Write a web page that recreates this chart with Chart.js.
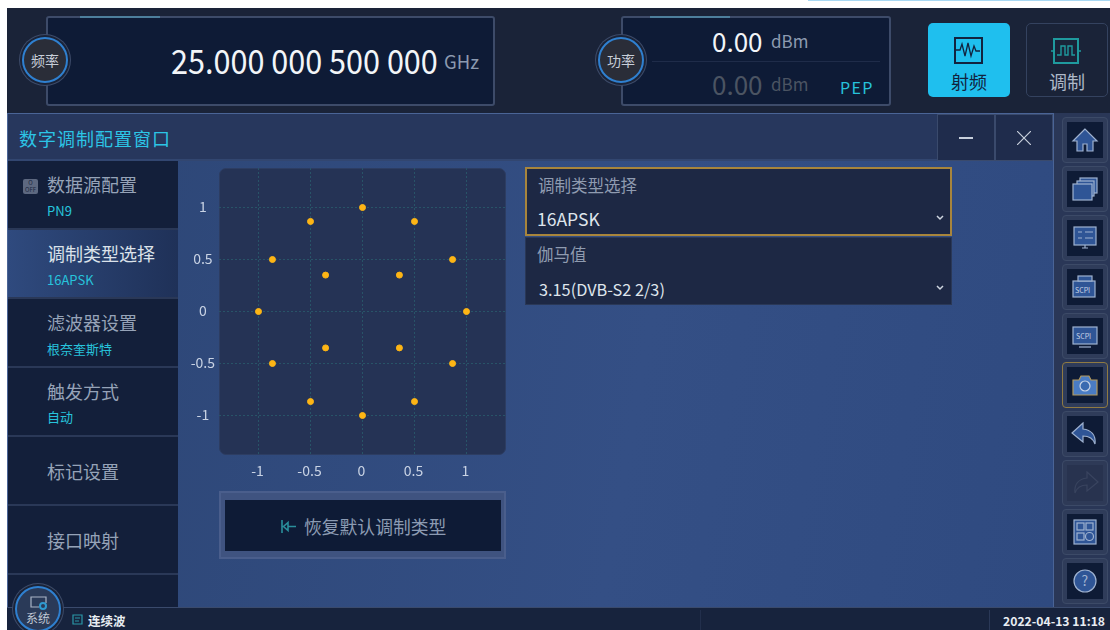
<!DOCTYPE html>
<html>
<head>
<meta charset="utf-8">
<title>数字调制配置窗口</title>
<script src="https://cdn.jsdelivr.net/npm/chart.js@4"></script>
<style>
html,body{margin:0;padding:0;width:1110px;height:630px;overflow:hidden;background:#fff;font-family:"Noto Sans CJK SC","Noto Sans",sans-serif;}
div,span,svg,canvas{position:absolute;box-sizing:border-box;white-space:nowrap;}
.box{background:#0e1b36;border:2px solid #3d4b69;border-radius:3px;}
.circle{width:46px;height:46px;border-radius:50%;background:#2a2d38;border:2px solid #2f80d0;box-shadow:0 0 0 2px #1a2338,0 0 0 3px #3d4b69;color:#c8ced8;font-size:14px;line-height:42px;text-align:center;}
.num{color:#f2f5f8;}
.unit{color:#8c9ab0;font-size:17px;}
.side{left:8px;width:170px;height:69px;border-bottom:2px solid #2a3857;}
.sname{left:47px;color:#96a3b8;font-size:18px;line-height:24px;}
.ssub{left:47px;color:#27c3dc;font-size:13px;line-height:18px;}
.rbtn{left:1062px;width:46px;height:46px;background:#0e1b36;border:5px solid #2f3c5a;outline:1px solid #3c4a67;outline-offset:-1px;border-radius:4px;}
.rbtn svg{left:4px;top:4px;width:28px;height:28px;}
.dd{left:525px;width:427px;background:#1d2844;}
.ddl{color:#8f9bb0;font-size:16.5px;line-height:22px;}
.ddv{color:#dfe5ec;line-height:24px;}
</style>
</head>
<body>

<div style="left:808px;top:0;width:302px;height:1px;background:#a8d8f2"></div>
<div style="left:7px;top:8px;width:1103px;height:105px;background:#1a2338"></div>

<div class="box" style="left:46px;top:16px;width:449px;height:90px"></div>
<div style="left:80px;top:16px;width:80px;height:2px;background:#4d7f9c"></div>
<div class="circle" style="left:22px;top:37px">频率</div>
<span class="num" style="left:171px;top:36px;font-size:34px;line-height:48px;transform:scaleX(.9);transform-origin:left center">25.000 000 500 000</span>
<span class="unit" style="left:444px;top:49px;line-height:24px;font-size:18.500px">GHz</span>

<div class="box" style="left:621px;top:16px;width:270px;height:90px"></div>
<div style="left:650px;top:16px;width:80px;height:2px;background:#4d7f9c"></div>
<div style="left:652px;top:61px;width:228px;height:1px;background:#1f2c49"></div>
<div class="circle" style="left:598px;top:37px">功率</div>
<span class="num" style="left:712px;top:23px;font-size:26px;line-height:36px">0.00</span>
<span class="unit" style="left:771px;top:29px;line-height:24px">dBm</span>
<span style="left:712px;top:66px;font-size:26px;line-height:36px;color:#4b5462">0.00</span>
<span style="left:771px;top:72px;font-size:17px;line-height:24px;color:#4b5462">dBm</span>
<span style="left:840px;top:75px;font-size:16px;line-height:24px;letter-spacing:1.300px;color:#27c3dc">PEP</span>

<div style="left:928px;top:23px;width:82px;height:74px;background:#1fbfee;border-radius:5px"></div>
<svg style="left:954px;top:37px" width="29" height="27" viewBox="0 0 29 27" fill="none" stroke="#12233f" stroke-width="2"><rect x="1" y="1" width="27" height="25"/><path stroke-width="1.3" d="M2 13l4 0 2-6 3 12 3-13 3 13 3-10 2 5 4 0"/></svg>
<span style="left:951px;top:68px;font-size:18px;line-height:26px;color:#12233f">射频</span>
<div style="left:1026px;top:23px;width:82px;height:74px;border:1px solid #34425f;border-radius:5px"></div>
<svg style="left:1051px;top:38px" width="30" height="26" viewBox="0 0 30 26" fill="none" stroke="#1f9a9e" stroke-width="2"><rect x="3" y="1" width="24" height="24"/><path stroke-width="1.4" d="M0 13h3M27 13h3M6 17h4V8h4v9h3V8h4v9h3"/></svg>
<span style="left:1049px;top:68px;font-size:18px;line-height:26px;color:#aeb9c8">调制</span>

<div style="left:7px;top:113px;width:1047px;height:495px;background:linear-gradient(100deg,#2c4574,#344f85 60%,#2f4a80);border:1px solid #4a6496"></div>
<div style="left:8px;top:114px;width:1045px;height:47px;background:#27375d;border-bottom:2px solid #324670"></div>
<span style="left:19px;top:125px;font-size:18px;line-height:26px;letter-spacing:1px;color:#2cc5e6">数字调制配置窗口</span>
<div style="left:937px;top:114px;width:58px;height:47px;background:#1f2c4c;border:1px solid #3a4a6c"></div>
<div style="left:995px;top:114px;width:58px;height:47px;background:#1f2c4c;border:1px solid #3a4a6c"></div>
<div style="left:959px;top:137px;width:14px;height:2px;background:#c8d0dc"></div>
<svg style="left:1017px;top:131px" width="14" height="14" stroke="#c8d0dc" stroke-width="1.2"><path d="M0 0L14 14M14 0L0 14"/></svg>

<div style="left:8px;top:161px;width:170px;height:446px;background:#131f3a"></div>
<div class="side" style="top:161px"></div>
<div class="side" style="top:230px;background:linear-gradient(90deg,#2f4a7e,#1f3158)"></div>
<div class="side" style="top:299px"></div>
<div class="side" style="top:368px"></div>
<div class="side" style="top:437px"></div>
<div class="side" style="top:506px"></div>
<div style="left:23px;top:179px;width:15px;height:15px;background:#5d6880;border-radius:2px;color:#1b2740;font-size:6px;line-height:7px;text-align:center">O<br>OFF</div>
<span class="sname" style="top:172px">数据源配置</span>
<span class="ssub" style="top:202px">PN9</span>
<span class="sname" style="top:241px;color:#dbe2ea">调制类型选择</span>
<span class="ssub" style="top:271px">16APSK</span>
<span class="sname" style="top:310px">滤波器设置</span>
<span class="ssub" style="top:340px">根奈奎斯特</span>
<span class="sname" style="top:379px">触发方式</span>
<span class="ssub" style="top:408px">自动</span>
<span class="sname" style="top:459px">标记设置</span>
<span class="sname" style="top:528px">接口映射</span>

<div style="left:219px;top:168px;width:287px;height:287px;background:#253355;border-radius:7px;border:1px solid #2d3d62"></div>
<canvas id="constellation" width="340" height="320" style="left:180px;top:160px;width:340px;height:320px"></canvas>

<div style="left:219px;top:491px;width:287px;height:68px;background:#3f5380;border:2px solid #4a5e8c"></div>
<div style="left:225px;top:500px;width:276px;height:51px;background:#0e1b36"></div>
<svg style="left:281px;top:520px" width="16" height="13" fill="none" stroke="#2a8f9c" stroke-width="1.6"><path d="M1 0v13M15 6.500H7M7 2.500L2.500 6.500L7 10.500Z"/></svg>
<span style="left:304px;top:513px;font-size:17.800px;line-height:26px;color:#8c9bb3">恢复默认调制类型</span>

<div class="dd" style="top:167px;height:69px;border:2px solid #a8853c"></div>
<span class="ddl" style="left:538px;top:174px">调制类型选择</span>
<span class="ddv" style="left:537px;top:207px;font-size:17.500px">16APSK</span>
<svg style="left:936px;top:215px" width="8" height="6" fill="none" stroke="#cfd6e0" stroke-width="1.5"><path d="M1 1l3 3 3-3"/></svg>
<div class="dd" style="top:237px;height:68px;border:1px solid #2a3857"></div>
<span class="ddl" style="left:537px;top:243px">伽马值</span>
<span class="ddv" style="left:539px;top:277px;font-size:16.300px">3.15(DVB-S2 2/3)</span>
<svg style="left:936px;top:285px" width="8" height="6" fill="none" stroke="#cfd6e0" stroke-width="1.5"><path d="M1 1l3 3 3-3"/></svg>

<div style="left:1054px;top:113px;width:56px;height:495px;background:#2a3757"></div>
<div class="rbtn" style="top:117px"><svg viewBox="0 0 28 28" fill="#2f5596" stroke="#9fb2d0" stroke-width="1.2"><path d="M14 3L2 15h4v10h6v-7h4v7h6V15h4z"/></svg></div>
<div class="rbtn" style="top:166px"><svg viewBox="0 0 28 28" fill="#2f5596" stroke="#9fb2d0" stroke-width="1.2"><rect x="9" y="3" width="17" height="15"/><rect x="6" y="6" width="17" height="15"/><rect x="2" y="9" width="19" height="16"/></svg></div>
<div class="rbtn" style="top:215px"><svg viewBox="0 0 28 28" fill="#2f5596" stroke="#9fb2d0" stroke-width="1.2"><rect x="3" y="3" width="22" height="18"/><path d="M7 8h4M14 8h8M7 14h4M14 14h8M11 24h6M14 21v3"/></svg></div>
<div class="rbtn" style="top:264px"><svg viewBox="0 0 28 28" fill="#2f5596" stroke="#9fb2d0" stroke-width="1.2"><rect x="2" y="8" width="22" height="16"/><rect x="7" y="3" width="14" height="5"/><text x="4" y="20" font-size="7" fill="#c8d4e6" stroke="none">SCPI</text></svg></div>
<div class="rbtn" style="top:313px"><svg viewBox="0 0 28 28" fill="#2f5596" stroke="#9fb2d0" stroke-width="1.2"><rect x="2" y="5" width="24" height="17"/><path d="M8 25h12"/><text x="5" y="17" font-size="7" fill="#c8d4e6" stroke="none">SCPI</text></svg></div>
<div class="rbtn" style="top:362px;outline-color:#8f7a42"><svg viewBox="0 0 28 28" fill="#4a7cc4" stroke="#b39a5e" stroke-width="1.2"><path d="M2 9h6l2-4h8l2 4h6v15H2z"/><circle cx="14" cy="15" r="5" fill="#3a6ab0" stroke="#c8d4e6"/></svg></div>
<div class="rbtn" style="top:411px"><svg viewBox="0 0 28 28" fill="#2f5596" stroke="#9fb2d0" stroke-width="1.2"><path d="M12 3L1 13l11 9v-6c6 0 10 2 12 8 1-9-4-14-12-15z"/></svg></div>
<div class="rbtn" style="top:460px;background:#28334f;border-color:#2e3a57"><svg viewBox="0 0 28 28" fill="none" stroke="#39445f" stroke-width="1.2"><path d="M16 3l11 10-11 9v-6c-6 0-10 2-12 8-1-9 4-14 12-15z"/></svg></div>
<div class="rbtn" style="top:509px"><svg viewBox="0 0 28 28" fill="#2f5596" stroke="#9fb2d0" stroke-width="1.2"><rect x="3" y="2" width="22" height="24"/><rect x="6" y="5" width="7" height="7"/><rect x="15" y="5" width="7" height="7"/><rect x="6" y="15" width="7" height="7"/><circle cx="18.500" cy="18.500" r="4"/></svg></div>
<div class="rbtn" style="top:558px"><svg viewBox="0 0 28 28" fill="#2f5596" stroke="#9fb2d0" stroke-width="1.2"><circle cx="14" cy="14" r="11"/><text x="10.500" y="19" font-size="14" fill="#9fb2d0" stroke="none">?</text></svg></div>

<div style="left:7px;top:607px;width:1103px;height:23px;background:#17233d;border-top:1px solid #3a4a6c"></div>
<div style="left:700px;top:610px;width:1px;height:20px;background:#222f4c"></div>
<div style="left:989px;top:610px;width:1px;height:20px;background:#2a3857"></div>
<div class="circle" style="left:15px;top:586px;height:46px;background:#2a3a58;line-height:1"></div>
<svg style="left:30px;top:596px" width="18" height="14" fill="none" stroke="#a9b4c6" stroke-width="1.2"><path d="M9 11H1V1h15v6"/><circle cx="13" cy="10" r="3" stroke="#2f9ad0" stroke-width="2"/></svg>
<span style="left:26px;top:610px;font-size:12px;line-height:15px;color:#c0c8d4">系统</span>
<svg style="left:72px;top:614px" width="11" height="11" fill="none" stroke="#2a98a8" stroke-width="1.200"><path d="M1 1h9v9H1zM3 4h5M3 7h4"/></svg>
<span style="left:88px;top:612px;font-size:12.500px;line-height:18px;font-weight:700;color:#e8edf2">连续波</span>
<span style="left:1003px;top:612px;font-size:12.200px;line-height:18px;font-weight:700;color:#e8edf2">2022-04-13 11:18</span>

<script>
var iValues = [0, 0.5, 0.866, 1, 0.866, 0.5, 0, -0.5, -0.866, -1, -0.866, -0.5, 0.355, 0.355, -0.355, -0.355];
var qValues = [1, 0.866, 0.5, 0, -0.5, -0.866, -1, -0.866, -0.5, 0, 0.5, 0.866, 0.35, -0.35, -0.35, 0.35];
var tickValues = [-1, -0.5, 0, 0.5, 1];
var axisMin = -1.38;
var axisMax = 1.38;

var points = [];
for (var i = 0; i < iValues.length; i++)
{
  points.push({x: iValues[i], y: qValues[i]});
}

function setTicks(scale)
{
  scale.ticks = tickValues.map(function (v) { return {value: v}; });
}

var gridStyle = {color: "#285468", lineWidth: 1, drawTicks: false, tickLength: 0};
var borderStyle = {display: false, dash: [2, 2]};
var tickFont = {family: "'Noto Sans CJK SC','Noto Sans',sans-serif", size: 14};

new Chart(document.getElementById("constellation"), {
  type: "scatter",
  data: {
    datasets: [{
      data: points,
      backgroundColor: "#fdb515",
      borderColor: "#fdb515",
      pointRadius: 3,
      pointHoverRadius: 3
    }]
  },
  options: {
    responsive: false,
    animation: false,
    layout: {padding: {left: 6, right: 14, top: 8, bottom: 0}},
    plugins: {legend: {display: false}, title: {display: false}, tooltip: {enabled: false}},
    scales: {
      x: {
        type: "linear",
        min: axisMin,
        max: axisMax,
        afterBuildTicks: setTicks,
        afterFit: function (scale) { scale.height = 25; },
        grid: gridStyle,
        border: borderStyle,
        ticks: {color: "#c9d3e4", font: tickFont, padding: 7, maxRotation: 0, autoSkip: false, labelOffset: -1,
          callback: function (v) { return String(v); }}
      },
      y: {
        type: "linear",
        min: axisMin,
        max: axisMax,
        afterBuildTicks: setTicks,
        afterFit: function (scale) {
          scale.width = 33;
          // labels would otherwise push the plot area down
          scale.paddingTop = 0;
          scale.paddingBottom = 0;
        },
        grid: gridStyle,
        border: borderStyle,
        ticks: {color: "#c9d3e4", font: tickFont, padding: 4, crossAlign: "center", autoSkip: false, labelOffset: -1,
          callback: function (v) { return String(v); }}
      }
    }
  }
});
</script>
</body>
</html>
